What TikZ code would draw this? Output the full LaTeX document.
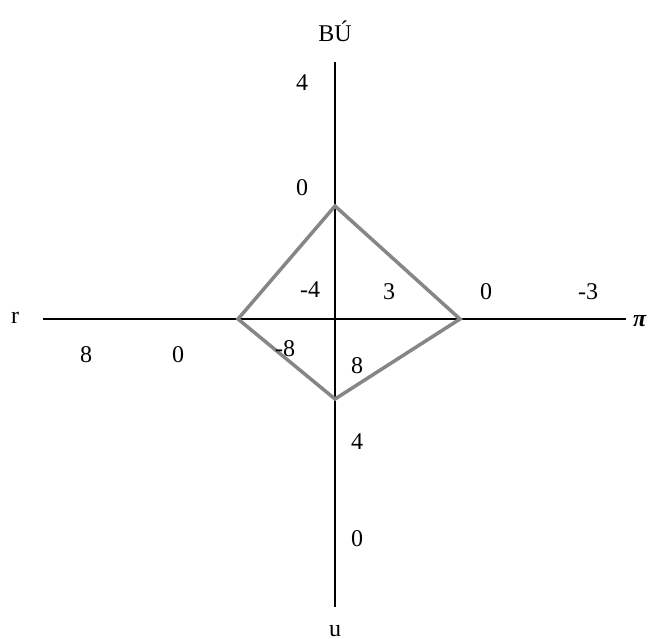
\documentclass[tikz,border=0pt]{standalone}
\usepackage{fontspec}
\setmainfont{Liberation Serif}
\begin{document}
\begin{tikzpicture}[x=1pt,y=-1pt,
  axis/.style={line width=1.6pt,black},
  diamondline/.style={line width=3.5pt,gray!95,line join=miter},
  lbl/.style={inner sep=0pt,font=\fontsize{24}{28}\selectfont}]
\useasboundingbox (0,0) rectangle (660,638);
\coordinate (T) at (335,62);
\coordinate (B) at (335,607);
\coordinate (L) at (43,319);
\coordinate (R) at (626,319);
\draw[axis] (T) -- (B);
\draw[axis] (L) -- (R);
\coordinate (dt) at (335,206);
\coordinate (dr) at (460,319);
\coordinate (db) at (335,399);
\coordinate (dl) at (238,319);
\draw[diamondline] (dt) -- (dr) -- (db) -- (dl) -- cycle;
\node[lbl] (bu) at (335,31) {BÚ};
\node[lbl] (u) at (335,631) {u};
\node[lbl] (r) at (15,318) {r};
\node[lbl] (pi) at (640,321) {\textit{\textbf{π}}};
\node[lbl] (a1) at (302,83) {4};
\node[lbl] (a2) at (302,188) {0};
\node[lbl] (a3) at (310,290) {-4};
\node[lbl] (a4) at (389,292) {3};
\node[lbl] (a5) at (486,292) {0};
\node[lbl] (a6) at (588,292) {-3};
\node[lbl] (a7) at (86,355) {8};
\node[lbl] (a8) at (178,355) {0};
\node[lbl] (a9) at (285,349) {-8};
\node[lbl] (a10) at (357,366) {8};
\node[lbl] (a11) at (357,442) {4};
\node[lbl] (a12) at (357,539) {0};
\end{tikzpicture}
\end{document}
